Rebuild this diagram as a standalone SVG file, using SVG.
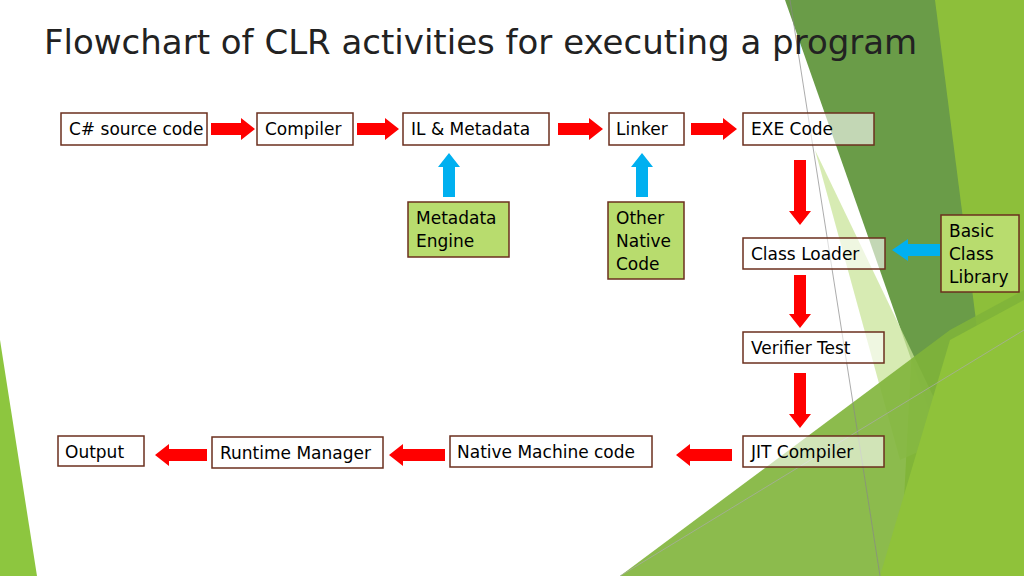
<svg xmlns="http://www.w3.org/2000/svg" width="1024" height="576" viewBox="0 0 1024 576">
<style>
.box{fill:#fff;stroke:#6b2f1e;stroke-width:1.5}
.gbox{fill:#b8dc6e;stroke:#6b2f1e;stroke-width:1.5}
.t{font-family:"DejaVu Sans",sans-serif;font-size:17px;fill:#000}
.red{fill:#ff0000}
.blue{fill:#00b0f0}
</style>
<rect width="1024" height="576" fill="#fff"/>
<g id="background">
<polygon points="0,340 37,576 0,576" fill="#8dc63f"/>
<polygon points="930,0 1024,0 1024,576 900,576" fill="#8dbf3a"/>
<polygon points="785,0 935,0 990,430 950,470" fill="#6a9c48"/>
<polygon points="815,150 935,400 945,440 900,460" fill="#c9e49a" opacity="0.75"/>
<polygon points="620,576 950,330 1024,290 1024,576" fill="#7fb43a" opacity="0.9"/>
<polygon points="880,576 950,340 1024,300 1024,576" fill="#8fc23a"/>
<line x1="790" y1="0" x2="880" y2="576" stroke="#888" stroke-width="0.7"/>
<line x1="620" y1="576" x2="1024" y2="330" stroke="#aaa" stroke-width="0.7"/>
</g>
<text x="44" y="54" font-family="'DejaVu Sans',sans-serif" font-size="34" fill="#222">Flowchart of CLR activities for executing a program</text>
<g id="connectors">
<polygon class="red" points="211,123 241,123 241,118 255,129 241,140 241,135 211,135"/>
<polygon class="red" points="357,123 385,123 385,118 399,129 385,140 385,135 357,135"/>
<polygon class="red" points="558,123 589,123 589,118 603,129 589,140 589,135 558,135"/>
<polygon class="red" points="691,123 723,123 723,118 737,129 723,140 723,135 691,135"/>
<polygon class="blue" points="443,197 443,167 438,167 449,153 460,167 455,167 455,197"/>
<polygon class="blue" points="636,197 636,167 631,167 642,153 653,167 648,167 648,197"/>
<polygon class="red" points="794,160 806,160 806,211 811,211 800,225 789,211 794,211"/>
<polygon class="red" points="794,275 806,275 806,314 811,314 800,328 789,314 794,314"/>
<polygon class="red" points="794,373 806,373 806,414 811,414 800,428 789,414 794,414"/>
<polygon class="blue" points="940,244 908,244 908,239 892,250 908,261 908,256 940,256"/>
<polygon class="red" points="732,449 690,449 690,444 676,455 690,466 690,461 732,461"/>
<polygon class="red" points="445,449 403,449 403,444 389,455 403,466 403,461 445,461"/>
<polygon class="red" points="207,449 169,449 169,444 155,455 169,466 169,461 207,461"/>
</g>
<g id="n-src"><rect class="box" x="61" y="113" width="146" height="32"/><text class="t" x="69" y="135">C# source code</text></g>
<g id="n-compiler"><rect class="box" x="257" y="113" width="96" height="32"/><text class="t" x="265" y="135">Compiler</text></g>
<g id="n-il"><rect class="box" x="403" y="113" width="146" height="32"/><text class="t" x="411" y="135">IL &amp; Metadata</text></g>
<g id="n-linker"><rect class="box" x="609" y="113" width="75" height="32"/><text class="t" x="616" y="135">Linker</text></g>
<g id="n-exe"><rect class="box" x="743" y="113" width="131" height="32" fill-opacity="0.6"/><text class="t" x="751" y="135">EXE Code</text></g>
<g id="n-meta"><rect class="gbox" x="408" y="202" width="101" height="55"/><text class="t" x="416" y="224">Metadata</text><text class="t" x="416" y="247">Engine</text></g>
<g id="n-other"><rect class="gbox" x="608" y="202" width="76" height="77"/><text class="t" x="616" y="224">Other</text><text class="t" x="616" y="247">Native</text><text class="t" x="616" y="270">Code</text></g>
<g id="n-loader"><rect class="box" x="743" y="238" width="142" height="31" fill-opacity="0.6"/><text class="t" x="751" y="260">Class Loader</text></g>
<g id="n-bcl"><rect class="gbox" x="941" y="215" width="78" height="77"/><text class="t" x="949" y="237">Basic</text><text class="t" x="949" y="260">Class</text><text class="t" x="949" y="283">Library</text></g>
<g id="n-verifier"><rect class="box" x="743" y="332" width="141" height="31" fill-opacity="0.6"/><text class="t" x="751" y="354">Verifier Test</text></g>
<g id="n-jit"><rect class="box" x="743" y="436" width="141" height="31" fill-opacity="0.6"/><text class="t" x="751" y="458">JIT Compiler</text></g>
<g id="n-native"><rect class="box" x="450" y="436" width="202" height="31"/><text class="t" x="457" y="458">Native Machine code</text></g>
<g id="n-runtime"><rect class="box" x="212" y="437" width="171" height="31"/><text class="t" x="220" y="459">Runtime Manager</text></g>
<g id="n-output"><rect class="box" x="58" y="436" width="86" height="30"/><text class="t" x="65" y="458">Output</text></g>
</svg>
